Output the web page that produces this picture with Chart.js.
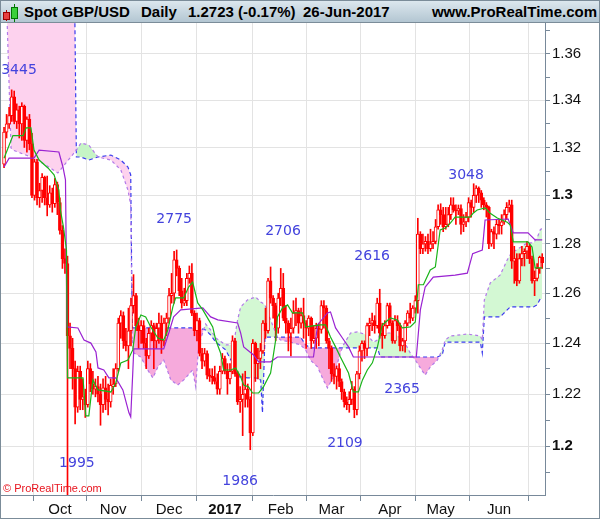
<!DOCTYPE html>
<html>
<head>
<meta charset="utf-8">
<script src="https://cdn.jsdelivr.net/npm/chart.js@4.4.0/dist/chart.umd.min.js"></script>
<style>
  html, body { margin: 0; padding: 0; background: #fff; }
  #frame { position: relative; width: 600px; height: 519px; box-sizing: border-box; border: 1px solid #7b8c99; overflow: hidden; font-family: "Liberation Sans", Arial, sans-serif; }
  #bar { position: absolute; left: 0; top: 0; width: 598px; height: 21px; border-bottom: 1px solid #7b8c99; background: linear-gradient(#dce7ee, #b3c6d2); z-index: 2; }
  #bar span { position: absolute; top: 2px; font-weight: bold; font-size: 15px; line-height: 17px; color: #000; white-space: nowrap; }
  #bar i { position: absolute; display: block; }
  #chart { position: absolute; left: 0; top: 0; }
  #copy { position: absolute; left: 2px; top: 481px; font-size: 11px; line-height: 12px; color: #e8141e; z-index: 2; }
</style>
</head>
<body>
<div id="frame">
  <div id="bar">
    <i style="left:5px;top:9px;width:1px;height:11px;background:#a00"></i>
    <i style="left:2px;top:11px;width:5px;height:6px;background:#e84040;border:1px solid #900"></i>
    <i style="left:13px;top:3px;width:1px;height:18px;background:#070"></i>
    <i style="left:10px;top:6px;width:5px;height:10px;background:#3ad03a;border:1px solid #070"></i>
    <span style="left:23px">Spot GBP/USD</span>
    <span style="left:140px">Daily</span>
    <span style="left:187px">1.2723 (-0.17%)</span>
    <span style="left:302px">26-Jun-2017</span>
    <span style="right:2px">www.ProRealTime.com</span>
  </div>
  <canvas id="chart" width="598" height="517"></canvas>
  <div id="copy">© ProRealTime.com</div>
</div>
<script>
// daily candles [open, high, low, close]
const sep16 = [
  [1.3130,1.3285,1.3115,1.3265],[1.3265,1.3340,1.3240,1.3300],[1.3300,1.3370,1.3280,1.3335],
  [1.3335,1.3445,1.3310,1.3415],[1.3415,1.3440,1.3300,1.3310],[1.3310,1.3385,1.3280,1.3360],
  [1.3360,1.3375,1.3240,1.3300],[1.3300,1.3390,1.3230,1.3375],[1.3375,1.3380,1.3200,1.3230],
  [1.3230,1.3330,1.3180,1.3320],[1.3320,1.3340,1.3190,1.3215],[1.3215,1.3260,1.2990,1.3000],
  [1.3000,1.3150,1.2980,1.3140],[1.3140,1.3150,1.2960,1.2990],[1.2990,1.3050,1.2950,1.3020],
  [1.3020,1.3090,1.2970,1.3075],[1.3075,1.3080,1.2960,1.2990],[1.2990,1.3080,1.2915,1.2960],
  [1.2960,1.3040,1.2950,1.3010],[1.3010,1.3030,1.2930,1.2965],[1.2965,1.3070,1.2950,1.3045],
  [1.3045,1.3055,1.2920,1.2970]
];
const oct16 = [
  [1.2970,1.2990,1.2840,1.2855],[1.2855,1.2875,1.2700,1.2740],[1.2740,1.2780,1.2680,1.2720],
  [1.2720,1.2750,1.1800,1.2430],[1.2430,1.2480,1.2300,1.2380],[1.2380,1.2420,1.2220,1.2300],
  [1.2300,1.2330,1.2085,1.2150],[1.2150,1.2310,1.2130,1.2290],[1.2290,1.2310,1.2140,1.2180],
  [1.2180,1.2260,1.2140,1.2190],[1.2190,1.2220,1.2110,1.2160],[1.2160,1.2330,1.2150,1.2300],
  [1.2300,1.2320,1.2210,1.2240],[1.2240,1.2290,1.2200,1.2220],[1.2220,1.2260,1.2190,1.2230],
  [1.2230,1.2270,1.2170,1.2200],[1.2200,1.2240,1.2080,1.2160],[1.2160,1.2260,1.2130,1.2225],
  [1.2225,1.2270,1.2140,1.2180],[1.2180,1.2240,1.2120,1.2170],[1.2170,1.2260,1.2150,1.2235]
];
const nov16 = [
  [1.2230,1.2300,1.2200,1.2240],[1.2240,1.2320,1.2230,1.2300],[1.2300,1.2500,1.2290,1.2480],
  [1.2480,1.2530,1.2420,1.2510],[1.2510,1.2525,1.2380,1.2410],[1.2410,1.2460,1.2370,1.2390],
  [1.2390,1.2540,1.2300,1.2450],[1.2450,1.2580,1.2390,1.2550],[1.2550,1.2675,1.2520,1.2590],
  [1.2590,1.2600,1.2450,1.2470],[1.2470,1.2500,1.2380,1.2450],[1.2450,1.2490,1.2400,1.2470],
  [1.2470,1.2490,1.2380,1.2400],[1.2400,1.2420,1.2300,1.2350],[1.2350,1.2460,1.2340,1.2440],
  [1.2440,1.2490,1.2410,1.2470],[1.2470,1.2480,1.2300,1.2410],[1.2410,1.2480,1.2380,1.2460],
  [1.2460,1.2520,1.2400,1.2480],[1.2480,1.2510,1.2360,1.2410],[1.2410,1.2500,1.2390,1.2480],
  [1.2480,1.2520,1.2430,1.2500]
];
const dec16 = [
  [1.2500,1.2620,1.2480,1.2590],[1.2590,1.2680,1.2560,1.2600],[1.2600,1.2770,1.2560,1.2735],
  [1.2735,1.2775,1.2670,1.2700],[1.2700,1.2710,1.2590,1.2610],[1.2610,1.2660,1.2540,1.2560],
  [1.2560,1.2620,1.2550,1.2570],[1.2570,1.2680,1.2550,1.2660],[1.2660,1.2710,1.2640,1.2680],
  [1.2680,1.2720,1.2510,1.2520],[1.2520,1.2530,1.2430,1.2450],[1.2450,1.2520,1.2410,1.2490],
  [1.2490,1.2500,1.2350,1.2360],[1.2360,1.2380,1.2300,1.2330],[1.2330,1.2380,1.2310,1.2360],
  [1.2360,1.2370,1.2260,1.2275],[1.2275,1.2300,1.2250,1.2270],[1.2270,1.2300,1.2240,1.2265],
  [1.2265,1.2310,1.2240,1.2250],[1.2250,1.2280,1.2200,1.2220],[1.2220,1.2310,1.2200,1.2290],
  [1.2290,1.2360,1.2280,1.2340]
];
const jan17 = [
  [1.2340,1.2350,1.2280,1.2290],[1.2290,1.2320,1.2200,1.2260],[1.2260,1.2320,1.2240,1.2290],
  [1.2290,1.2430,1.2280,1.2410],[1.2410,1.2420,1.2270,1.2280],[1.2280,1.2290,1.2160,1.2170],
  [1.2170,1.2230,1.2130,1.2180],[1.2180,1.2280,1.2040,1.2200],[1.2200,1.2290,1.2150,1.2220],
  [1.2220,1.2240,1.2150,1.2180],[1.2180,1.2190,1.1986,1.2050],[1.2050,1.2415,1.2040,1.2400],
  [1.2400,1.2405,1.2250,1.2320],[1.2320,1.2380,1.2260,1.2340],[1.2340,1.2400,1.2300,1.2370],
  [1.2370,1.2490,1.2360,1.2480],[1.2480,1.2540,1.2420,1.2450],[1.2450,1.2660,1.2440,1.2650],
  [1.2650,1.2706,1.2560,1.2580],[1.2580,1.2590,1.2500,1.2550],[1.2550,1.2560,1.2410,1.2460],
  [1.2460,1.2600,1.2440,1.2580]
];
const feb17 = [
  [1.2580,1.2700,1.2550,1.2620],[1.2620,1.2680,1.2490,1.2500],[1.2500,1.2550,1.2440,1.2480],
  [1.2480,1.2490,1.2370,1.2440],[1.2440,1.2500,1.2350,1.2460],[1.2460,1.2570,1.2440,1.2520],
  [1.2520,1.2580,1.2470,1.2530],[1.2530,1.2540,1.2440,1.2480],[1.2480,1.2540,1.2460,1.2510],
  [1.2510,1.2580,1.2420,1.2480],[1.2480,1.2490,1.2380,1.2460],[1.2460,1.2510,1.2430,1.2500],
  [1.2500,1.2505,1.2380,1.2410],[1.2410,1.2470,1.2400,1.2420],[1.2420,1.2480,1.2380,1.2460],
  [1.2460,1.2480,1.2390,1.2455],[1.2455,1.2570,1.2440,1.2550],[1.2550,1.2570,1.2460,1.2540],
  [1.2540,1.2550,1.2400,1.2410],[1.2410,1.2420,1.2300,1.2380]
];
const mar17 = [
  [1.2380,1.2390,1.2250,1.2280],[1.2280,1.2320,1.2240,1.2270],[1.2270,1.2310,1.2220,1.2300],
  [1.2300,1.2320,1.2230,1.2250],[1.2250,1.2260,1.2180,1.2210],[1.2210,1.2220,1.2150,1.2170],
  [1.2170,1.2190,1.2140,1.2160],[1.2160,1.2210,1.2130,1.2180],[1.2180,1.2250,1.2160,1.2220],
  [1.2220,1.2230,1.2109,1.2140],[1.2140,1.2290,1.2120,1.2280],[1.2280,1.2390,1.2260,1.2370],
  [1.2370,1.2410,1.2330,1.2400],[1.2400,1.2410,1.2340,1.2380],[1.2380,1.2480,1.2350,1.2470],
  [1.2470,1.2500,1.2430,1.2480],[1.2480,1.2520,1.2450,1.2490],[1.2490,1.2510,1.2440,1.2470],
  [1.2470,1.2580,1.2460,1.2560],[1.2560,1.2616,1.2420,1.2440],[1.2440,1.2480,1.2380,1.2430],
  [1.2430,1.2490,1.2420,1.2470],[1.2470,1.2560,1.2460,1.2550]
];
const apr17 = [
  [1.2550,1.2560,1.2470,1.2480],[1.2480,1.2490,1.2400,1.2410],[1.2410,1.2510,1.2400,1.2490],
  [1.2490,1.2510,1.2450,1.2470],[1.2470,1.2480,1.2370,1.2390],[1.2390,1.2420,1.2370,1.2410],
  [1.2410,1.2490,1.2365,1.2480],[1.2480,1.2530,1.2470,1.2520],[1.2520,1.2560,1.2480,1.2500],
  [1.2500,1.2550,1.2490,1.2540],[1.2540,1.2590,1.2520,1.2570],[1.2570,1.2905,1.2520,1.2840],
  [1.2840,1.2850,1.2760,1.2780],[1.2780,1.2840,1.2760,1.2800],[1.2800,1.2830,1.2770,1.2810],
  [1.2810,1.2840,1.2760,1.2780],[1.2780,1.2860,1.2770,1.2800],[1.2800,1.2850,1.2780,1.2810],
  [1.2810,1.2900,1.2800,1.2870],[1.2870,1.2960,1.2860,1.2940]
];
const may17 = [
  [1.2940,1.2965,1.2880,1.2920],[1.2920,1.2950,1.2850,1.2870],[1.2870,1.2950,1.2860,1.2880],
  [1.2880,1.2950,1.2870,1.2920],[1.2920,1.2990,1.2900,1.2960],[1.2960,1.2990,1.2930,1.2940],
  [1.2940,1.2960,1.2880,1.2935],[1.2935,1.2960,1.2920,1.2945],[1.2945,1.2960,1.2840,1.2880],
  [1.2880,1.2920,1.2850,1.2890],[1.2890,1.2930,1.2870,1.2910],[1.2910,1.2990,1.2890,1.2970],
  [1.2970,1.2980,1.2910,1.2950],[1.2950,1.3048,1.2930,1.3000],[1.3000,1.3040,1.2970,1.3030],
  [1.3030,1.3035,1.2970,1.3010],[1.3010,1.3020,1.2950,1.2980],[1.2980,1.2990,1.2940,1.2960],
  [1.2960,1.2970,1.2910,1.2950],[1.2950,1.2955,1.2780,1.2800],[1.2800,1.2860,1.2790,1.2850],
  [1.2850,1.2870,1.2780,1.2840],[1.2840,1.2900,1.2820,1.2880]
];
const jun17 = [
  [1.2880,1.2900,1.2840,1.2875],[1.2875,1.2920,1.2840,1.2890],[1.2890,1.2940,1.2880,1.2920],
  [1.2920,1.2970,1.2900,1.2950],[1.2950,1.2980,1.2930,1.2960],[1.2960,1.2980,1.2700,1.2730],
  [1.2730,1.2790,1.2640,1.2740],[1.2740,1.2760,1.2630,1.2650],[1.2650,1.2760,1.2640,1.2740],
  [1.2740,1.2790,1.2710,1.2760],[1.2760,1.2780,1.2710,1.2770],[1.2770,1.2810,1.2740,1.2790],
  [1.2790,1.2800,1.2720,1.2740],[1.2740,1.2750,1.2640,1.2650],[1.2650,1.2690,1.2590,1.2660],
  [1.2660,1.2720,1.2650,1.2700],[1.2700,1.2750,1.2680,1.2745],[1.2745,1.2760,1.2700,1.2723]
];

// x axis: bar index of first trading day of each month
const monthIdx = [22, 43, 65, 87, 109, 129, 152, 172, 195];
const monthLabels = ['Oct', 'Nov', 'Dec', '2017', 'Feb', 'Mar', 'Apr', 'May', 'Jun'];

// y axis (log scale) ticks
const yTicks = [1.19, 1.2, 1.21, 1.22, 1.23, 1.24, 1.25, 1.26, 1.27, 1.28, 1.29, 1.3, 1.31, 1.32, 1.33, 1.34, 1.35, 1.36, 1.37];
const yTickLabels = ['', '1.2', '', '1.22', '', '1.24', '', '1.26', '', '1.28', '', '1.3', '', '1.32', '', '1.34', '', '1.36', ''];

// ichimoku lines, [bar index, price]
const tenkan = [
  [0,1.3155],[3.5,1.3250],[7.5,1.3250],[8.7,1.3283],[10.6,1.3283],[11.8,1.3189],[13.8,1.3147],[17.3,1.3114],
  [19.7,1.3085],[21.6,1.3022],[22.2,1.2939],[23.4,1.2869],[24.6,1.2775],[25,1.2264],[31.1,1.2264],[32.2,1.2116],
  [33.4,1.2116],[35,1.2256],[37,1.2217],[42.1,1.2209],[44,1.2244],[46,1.2323],[48.8,1.2334],[50.7,1.2374],
  [51.9,1.2465],[53.9,1.2513],[55.8,1.2505],[57.8,1.2465],[60.6,1.2421],[62.9,1.2413],[64.5,1.2453],[66.5,1.2545],
  [67.6,1.2581],[70.8,1.2581],[72.7,1.2625],[74.3,1.2645],[76.3,1.2561],[78.3,1.2533],[80.6,1.2493],[82.2,1.2465],
  [83.4,1.2413],[85.3,1.2362],[86.5,1.2295],[89.3,1.2295],[91.2,1.2303],[93.2,1.2268],[94.4,1.2236],[96.3,1.2229],
  [97.9,1.2205],[100.3,1.2205],[102.2,1.2229],[105,1.2283],[107,1.2413],[107.7,1.2505],[109.7,1.2541],[111.7,1.2553],
  [113.6,1.2521],[117.6,1.2521],[118.8,1.2465],[124.7,1.2473],[126.6,1.2473],[128.6,1.2425],[130.6,1.2386],[132.5,1.2346],
  [135.7,1.2283],[137.6,1.2209],[139.6,1.2209],[141.2,1.2256],[143.1,1.2295],[145.1,1.2323],[147.1,1.2386],[149,1.2473],
  [152.2,1.2501],[154.9,1.2493],[156.9,1.2461],[160,1.2465],[162,1.2485],[163.2,1.2634],[165.2,1.2634],[167.9,1.2694],
  [169.9,1.2706],[171.8,1.2857],[173.8,1.2865],[175.8,1.2885],[177.7,1.2910],[183.6,1.2910],[184.8,1.2926],[186.4,1.2939],
  [189.5,1.2948],[191.5,1.2926],[194.3,1.2906],[198.2,1.2889],[199.4,1.2877],[200.6,1.2808],[206.4,1.2808],[208,1.2787],
  [209.2,1.2702],[212,1.2702]
];
const kijun = [
  [0,1.3118],[2,1.3155],[11.8,1.3155],[13.8,1.3189],[21.6,1.3181],[23.2,1.3118],[24.2,1.3064],[24.8,1.2465],
  [29.1,1.2461],[31.5,1.2413],[34.2,1.2401],[36.2,1.2366],[37,1.2303],[39.3,1.2295],[41.3,1.2264],[44,1.2264],
  [46.8,1.2217],[49.2,1.2128],[49.9,1.2112],[50.7,1.2283],[51.1,1.2378],[62.9,1.2378],[64.9,1.2441],[66.8,1.2505],
  [69.6,1.2533],[78.3,1.2541],[81.4,1.2505],[84.2,1.2493],[92,1.2481],[93.2,1.2441],[94.4,1.2386],[98.3,1.2354],
  [100.3,1.2327],[105,1.2327],[107.7,1.2346],[121.9,1.2346],[123.5,1.2473],[127.4,1.2521],[128.6,1.2525],[130.6,1.2461],
  [133.3,1.2421],[135.7,1.2386],[137.6,1.2346],[162.4,1.2346],[164,1.2533],[165.9,1.2625],[169.1,1.2665],[177.7,1.2673],
  [182.5,1.2681],[184.6,1.2760],[188.4,1.2775],[189.5,1.2898],[198.6,1.2902],[200.6,1.2845],[206.4,1.2845],[209.2,1.2816],
  [212,1.2816]
];

// cloud: senkou span A and B at the same bar indices
const cloudIdx = [
  -1.2, 1.2, 2.75, 3.5, 11.8, 16.5, 21.2, 24.4, 27.9, 28.5, 30.3, 33.4, 37.0, 42.1, 46.0, 48.8, 49.9, 50.5,
  51.1, 53.9, 56.6, 58.6, 60.6, 62.9, 65.7, 68.4, 70.8, 74.3, 75.5, 76.7, 79.4, 81.4, 83.4, 87.3, 90.4, 92.0,
  93.2, 95.9, 99.1, 101.1, 101.8, 102.8, 105.0, 107.7, 108.9, 112.9, 116.8, 118.8, 120.7, 123.5, 125.8, 127.4,
  129.8, 132.5, 133.7, 136.5, 139.2, 143.1, 145.5, 147.1, 148.2, 151.0, 153.4, 157.3, 160.0, 162.0, 164.0, 165.9,
  167.9, 170.7, 172.6, 173.8, 175.8, 182.5, 187.6, 188.4, 189.2, 191.5, 195.4, 198.2, 199.4, 200.6, 206.1, 208.5,
  210.0, 211.2, 212
];
const spanA = [
  1.3748, 1.3748, 1.3198, 1.3189, 1.3155, 1.3126, 1.3093, 1.3135, 1.3181, 1.3189, 1.3219, 1.3210, 1.3160, 1.3147, 1.3106, 1.3022, 1.2960, 1.2413,
  1.2362, 1.2346, 1.2295, 1.2264, 1.2307, 1.2334, 1.2256, 1.2236, 1.2256, 1.2295, 1.2229, 1.2394, 1.2477, 1.2453, 1.2421, 1.2394, 1.2394, 1.2493,
  1.2545, 1.2573, 1.2585, 1.2565, 1.2561, 1.2553, 1.2493, 1.2425, 1.2413, 1.2405, 1.2394, 1.2374, 1.2334, 1.2307, 1.2256, 1.2225,
  1.2268, 1.2362, 1.2394, 1.2441, 1.2445, 1.2433, 1.2405, 1.2413, 1.2441, 1.2441, 1.2441, 1.2413, 1.2362, 1.2334, 1.2303, 1.2275,
  1.2307, 1.2334, 1.2374, 1.2413, 1.2429, 1.2437, 1.2429, 1.2413, 1.2573, 1.2641, 1.2673, 1.2734, 1.2755, 1.2767, 1.2804, 1.2804,
  1.2824, 1.2857, 1.2865
];
const spanB = [
  1.3748, 1.3748, 1.3748, 1.3748, 1.3748, 1.3748, 1.3748, 1.3748, 1.3748, 1.3160, 1.3160, 1.3147, 1.3160, 1.3168, 1.3147, 1.3118, 1.3085, 1.2461,
  1.2461, 1.2461, 1.2461, 1.2461, 1.2461, 1.2461, 1.2461, 1.2461, 1.2461, 1.2461, 1.2461, 1.2461, 1.2453, 1.2433, 1.2405, 1.2374, 1.2315, 1.2268,
  1.2268, 1.2264, 1.2264, 1.2256, 1.2128, 1.2425, 1.2425, 1.2425, 1.2425, 1.2425, 1.2425, 1.2394, 1.2382, 1.2382, 1.2382, 1.2382,
  1.2382, 1.2382, 1.2382, 1.2382, 1.2382, 1.2382, 1.2382, 1.2382, 1.2346, 1.2346, 1.2346, 1.2346, 1.2346, 1.2346, 1.2346, 1.2346,
  1.2346, 1.2346, 1.2354, 1.2405, 1.2405, 1.2405, 1.2405, 1.2362, 1.2505, 1.2505, 1.2505, 1.2533, 1.2545, 1.2545, 1.2545, 1.2545,
  1.2553, 1.2577, 1.2577
];

// swing high / low notes: text, bar index, price where it sits
const peakText = ['3445', '1995', '2775', '1986', '2706', '2109', '2616', '2365', '3048'];
const peakIdx = [5.9, 28.7, 67.0, 93.0, 109.9, 134.3, 145.0, 156.8, 182.0];
const peakPrice = [1.3527, 1.1935, 1.2902, 1.1867, 1.2853, 1.2012, 1.2751, 1.2221, 1.3081];

const RED = '#ff0000';
const bars = [].concat(sep16, oct16, nov16, dec16, jan17, feb17, mar17, apr17, may17, jun17);

function pts(list) {
  return list.map(p => ({ x: p[0], y: p[1] }));
}
function cloudPart(values, from, to) {
  return cloudIdx.map((x, k) => ({ x: x, y: values[k] })).filter(p => p.x >= from && p.x <= to);
}

const peakNotes = {
  id: 'peakNotes',
  afterDatasetsDraw(chart) {
    const { ctx, scales } = chart;
    ctx.save();
    ctx.font = '14px "DejaVu Sans"';
    ctx.fillStyle = '#4343dd';
    ctx.textAlign = 'center';
    ctx.textBaseline = 'middle';
    peakText.forEach((t, k) => {
      ctx.fillText(t, scales.x.getPixelForValue(peakIdx[k]), scales.y.getPixelForValue(peakPrice[k]));
    });
    ctx.restore();
  }
};

const spanBStyle = { type: 'line', borderColor: '#3b3bef', borderWidth: 1.2, borderDash: [4, 3], pointRadius: 0, order: 8 };
const spanAStyle = { type: 'line', borderColor: '#b27ae8', borderWidth: 1.2, borderDash: [3, 3], pointRadius: 0, order: 7 };

new Chart(document.getElementById('chart').getContext('2d'), {
  type: 'bar',
  data: {
    datasets: [
      Object.assign({ data: cloudPart(spanB, -2, 50.5) }, spanBStyle),
      Object.assign({ data: cloudPart(spanA, -2, 50.5), fill: { target: 0, above: '#c6f4c6', below: '#fdd2ee' } }, spanAStyle),
      Object.assign({ data: cloudPart(spanB, 50.5, 213) }, spanBStyle),
      Object.assign({ data: cloudPart(spanA, 50.5, 213), fill: { target: 2, above: '#d3f8d3', below: '#f6aadc' } }, spanAStyle),
      {
        type: 'bar', grouped: false, order: 3,
        data: bars.map((b, i) => ({ x: i, y: [b[2], b[1]] })),
        backgroundColor: RED, borderWidth: 0, barThickness: 1
      },
      {
        type: 'bar', grouped: false, order: 2,
        data: bars.map((b, i) => ({ x: i, y: [b[0], b[3]] })),
        backgroundColor: bars.map(b => b[3] > b[0] ? '#ffffff' : RED),
        borderColor: RED, borderWidth: 1, borderSkipped: false, barThickness: 3, minBarLength: 1
      },
      { type: 'line', data: pts(kijun), borderColor: '#9a22d2', borderWidth: 1.2, pointRadius: 0, order: 1 },
      { type: 'line', data: pts(tenkan), borderColor: '#19b419', borderWidth: 1.2, pointRadius: 0, order: 0 }
    ]
  },
  options: {
    responsive: false,
    animation: false,
    devicePixelRatio: 1,
    layout: { padding: { top: 22, left: 0, right: 0, bottom: 0 } },
    plugins: {
      legend: { display: false },
      tooltip: { enabled: false },
      filler: { drawTime: 'beforeDatasetsDraw' }
    },
    elements: { line: { tension: 0 } },
    scales: {
      x: {
        type: 'linear', min: -1.2, max: 213.1, offset: false, bounds: 'data',
        afterBuildTicks: s => { s.ticks = monthIdx.map(v => ({ value: v })); },
        afterFit: s => { s.height = 23; },
        grid: { color: '#e3e3e3', tickColor: '#78899a', tickLength: 6 },
        border: { color: '#78899a' },
        ticks: {
          autoSkip: false, maxRotation: 0, padding: 0, color: '#111',
          font: c => ({ family: 'Liberation Sans', size: 15, weight: monthLabels[c.index] === '2017' ? 'bold' : 'normal' }),
          callback: (v, i) => monthLabels[i]
        }
      },
      y: {
        type: 'logarithmic', position: 'right', min: 1.1814, max: 1.3735, bounds: 'data',
        afterBuildTicks: s => { s.ticks = yTicks.map(v => ({ value: v })); },
        afterFit: s => { s.width = 54; },
        grid: { color: c => yTickLabels[c.index] ? '#e3e3e3' : 'rgba(0,0,0,0)', tickColor: '#78899a', tickLength: 5 },
        border: { color: '#78899a' },
        ticks: {
          autoSkip: false, padding: 2, color: '#111',
          font: c => ({ family: 'Liberation Sans', size: 15, weight: (yTickLabels[c.index] === '1.2' || yTickLabels[c.index] === '1.3') ? 'bold' : 'normal' }),
          callback: (v, i) => yTickLabels[i]
        }
      }
    }
  },
  plugins: [peakNotes]
});
</script>
</body>
</html>
